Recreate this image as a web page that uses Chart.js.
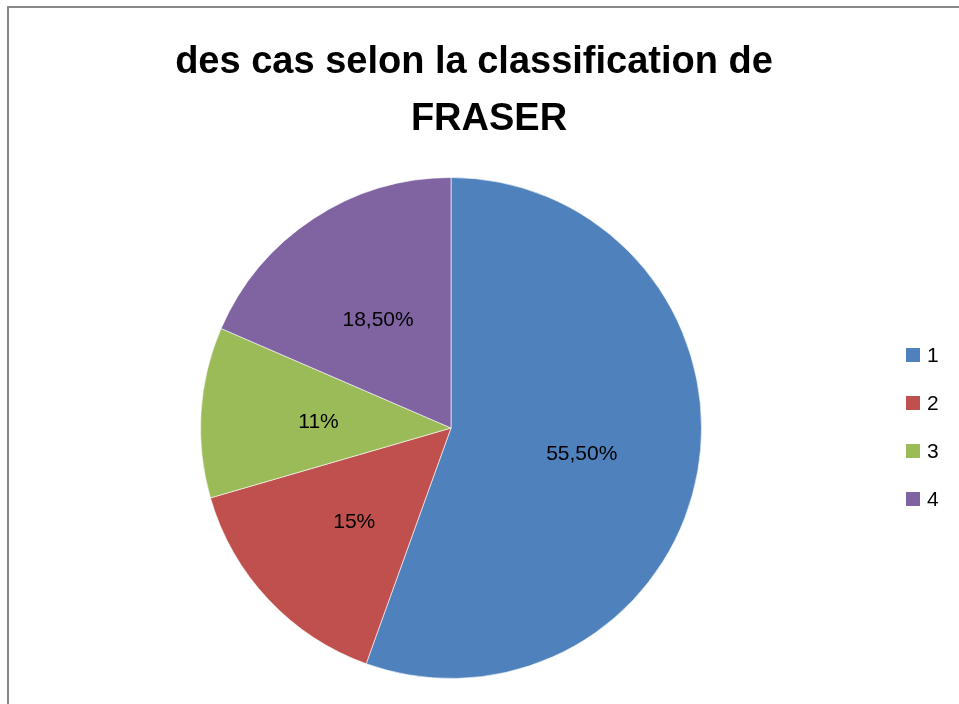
<!DOCTYPE html>
<html>
<head>
<meta charset="utf-8">
<script src="https://cdn.jsdelivr.net/npm/chart.js@4"></script>
<style>
  html, body { margin:0; padding:0; background:#fff; overflow:hidden; }
  #frame { position:absolute; left:7px; top:6px; width:1000px; height:800px; border:2px solid #888; box-sizing:border-box; }
  #wrap { position:absolute; left:0; top:0; width:959px; height:704px; }
</style>
</head>
<body>
<div id="frame"></div>
<div id="wrap"><canvas id="c" width="959" height="704"></canvas></div>
<script>
// données du graphique
const categories = ['1', '2', '3', '4'];
const values = [55.5, 15, 11, 18.5];
const valueLabels = ['55,50%', '15%', '11%', '18,50%'];
const titleLines = ['des cas selon la classification de', 'FRASER'];
const colors = ['#4F81BD', '#C0504D', '#9BBB59', '#8064A2'];

// titre, étiquettes et légende dessinés à la main
const decor = {
  id: 'decor',
  afterDraw(chart){
    const ctx = chart.ctx;
    ctx.save();
    ctx.fillStyle = '#000';
    ctx.textAlign = 'center';
    ctx.textBaseline = 'alphabetic';
    ctx.font = 'bold 38px "Liberation Sans", Arial, sans-serif';
    ctx.fillText(titleLines[0], 474, 73);
    ctx.fillText(titleLines[1], 489, 130);

    // étiquettes dans les parts
    const meta = chart.getDatasetMeta(0);
    ctx.font = '21px "Liberation Sans", Arial, sans-serif';
    ctx.textBaseline = 'middle';
    meta.data.forEach((arc, i) => {
      const p = arc.getProps(['x','y','startAngle','endAngle','outerRadius'], true);
      const mid = (p.startAngle + p.endAngle) / 2;
      const r = p.outerRadius * 0.53;
      ctx.fillText(valueLabels[i], p.x + Math.cos(mid) * r, p.y + Math.sin(mid) * r + 3);
    });

    // légende
    ctx.textAlign = 'left';
    ctx.font = '21px "Liberation Sans", Arial, sans-serif';
    categories.forEach((c, i) => {
      const y = 355 + i * 48;
      ctx.fillStyle = colors[i];
      ctx.fillRect(906, y - 7, 14, 14);
      ctx.fillStyle = '#000';
      ctx.fillText(c, 927, y + 1);
    });
    ctx.restore();
  }
};

new Chart(document.getElementById('c'), {
  type: 'pie',
  data: {
    labels: categories,
    datasets: [{
      data: values,
      backgroundColor: colors,
      borderColor: 'rgba(255,255,255,0.6)',
      borderWidth: 1
    }]
  },
  options: {
    responsive: false,
    animation: false,
    layout: { padding: { left: 200, top: 177, right: 257, bottom: 25 } },
    plugins: {
      legend: { display: false },
      tooltip: { enabled: false },
      title: { display: false }
    }
  },
  plugins: [decor]
});
</script>
</body>
</html>
